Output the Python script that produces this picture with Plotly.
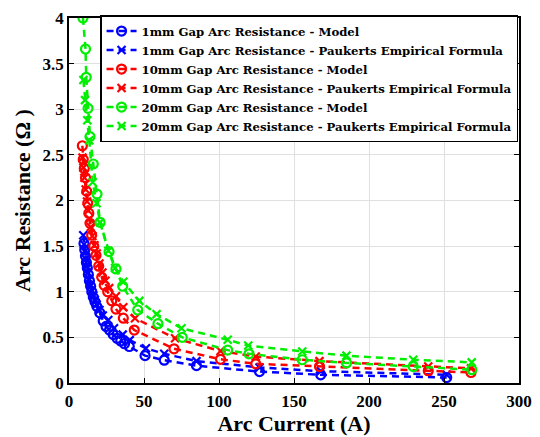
import plotly.graph_objects as go

# ---- data ----
g_model_I = [9.3, 11.0, 11.5, 12.7, 14.0, 16.2, 18.7, 20.7, 26.7, 31.3, 35.8, 45.8, 59.3, 75.5, 105.8, 120.0, 155.5, 185.0, 229.5, 268.5]
g_model_R = [4.00, 3.66, 3.35, 3.01, 2.70, 2.40, 2.07, 1.76, 1.44, 1.25, 1.06, 0.80, 0.65, 0.50, 0.36, 0.32, 0.255, 0.22, 0.18, 0.146]

g_pauk_I = [9.6, 10.7, 12.2, 13.5, 15.8, 18.4, 20.7, 26.2, 30.7, 36.2, 46.9, 58.4, 75.0, 105.8, 119.5, 155.5, 185.0, 229.5, 268.5]
g_pauk_R = [3.32, 3.10, 2.88, 2.66, 2.20, 1.97, 1.76, 1.45, 1.26, 1.11, 0.90, 0.755, 0.60, 0.474, 0.41, 0.346, 0.30, 0.255, 0.226]

r_model_I = [8.9, 9.5, 10.2, 11.0, 11.8, 12.5, 13.2, 14.0, 15.1, 16.5, 18.0, 19.8, 21.8, 23.5, 25.8, 28.5, 31.3, 36.2, 43.5, 70.0, 101.0, 124.5, 167.0, 239.5, 268.0]
r_model_R = [2.60, 2.45, 2.35, 2.25, 2.10, 1.97, 1.86, 1.75, 1.62, 1.50, 1.40, 1.28, 1.16, 1.07, 1.00, 0.90, 0.81, 0.71, 0.58, 0.375, 0.26, 0.21, 0.18, 0.135, 0.115]

r_pauk_I = [9.0, 9.6, 10.3, 11.1, 12.0, 12.8, 13.6, 14.5, 15.6, 17.0, 18.5, 20.3, 22.3, 24.3, 26.8, 31.3, 36.2, 44.0, 70.7, 101.0, 124.5, 167.0, 239.5, 268.0]
r_pauk_R = [2.47, 2.36, 2.25, 2.12, 1.99, 1.89, 1.80, 1.71, 1.61, 1.51, 1.42, 1.31, 1.21, 1.12, 1.04, 0.95, 0.83, 0.71, 0.49, 0.35, 0.29, 0.24, 0.18, 0.16]

b_model_I = [10.0, 10.5, 11.0, 11.6, 12.2, 12.9, 13.6, 14.4, 15.2, 16.2, 17.3, 18.5, 20.5, 22.8, 24.7, 27.0, 29.5, 32.0, 34.5, 37.0, 40.2, 50.7, 63.5, 85.0, 127.0, 167.8, 251.8]
b_model_R = [1.53, 1.46, 1.39, 1.32, 1.26, 1.19, 1.12, 1.06, 1.00, 0.94, 0.89, 0.84, 0.77, 0.68, 0.62, 0.58, 0.53, 0.49, 0.46, 0.43, 0.40, 0.30, 0.25, 0.19, 0.125, 0.09, 0.06]

b_pauk_I = [9.5, 10.0, 10.6, 11.2, 11.9, 12.6, 13.4, 14.2, 15.1, 16.1, 17.2, 18.4, 20.3, 22.5, 26.2, 30.0, 35.8, 40.5, 51.3, 63.5, 85.0, 127.0, 167.8, 251.8]
b_pauk_R = [1.62, 1.52, 1.44, 1.36, 1.28, 1.21, 1.14, 1.08, 1.02, 0.96, 0.91, 0.86, 0.80, 0.74, 0.69, 0.60, 0.53, 0.47, 0.38, 0.32, 0.24, 0.17, 0.13, 0.09]

series_names = [
    "1mm Gap Arc Resistance - Model",
    "1mm Gap Arc Resistance - Paukerts Empirical Formula",
    "10mm Gap Arc Resistance - Model",
    "10mm Gap Arc Resistance - Paukerts Empirical Formula",
    "20mm Gap Arc Resistance - Model",
    "20mm Gap Arc Resistance - Paukerts Empirical Formula",
]

x_ticks = [0, 50, 100, 150, 200, 250, 300]
y_ticks = [0, 0.5, 1, 1.5, 2, 2.5, 3, 3.5, 4]
y_tick_text = ["0", "0.5", "1", "1.5", "2", "2.5", "3", "3.5", "4"]

BLUE = "#0000FF"
RED = "#FF0000"
GREEN = "#00EE00"
FONT = "Liberation Serif"

series = [
    (b_model_I, b_model_R, BLUE, "circle-open"),
    (b_pauk_I, b_pauk_R, BLUE, "x-thin-open"),
    (r_model_I, r_model_R, RED, "circle-open"),
    (r_pauk_I, r_pauk_R, RED, "x-thin-open"),
    (g_model_I, g_model_R, GREEN, "circle-open"),
    (g_pauk_I, g_pauk_R, GREEN, "x-thin-open"),
]

fig = go.Figure()
for (xs, ys, col, sym), name in zip(series, series_names):
    fig.add_trace(go.Scatter(
        x=xs, y=ys, name=name, mode="lines+markers",
        line=dict(color=col, width=2.5, dash="7px,5px"),
        marker=dict(symbol=sym, size=9 if sym == "circle-open" else 8,
                    color=col, line=dict(color=col, width=2.2)),
    ))

fig.update_layout(
    width=540, height=437,
    margin=dict(l=69, r=21, t=18, b=54),
    paper_bgcolor="white", plot_bgcolor="white",
    font=dict(family=FONT, color="black"),
    showlegend=True,
    legend=dict(
        x=0.069, y=1.008, xanchor="left", yanchor="top",
        bgcolor="white", bordercolor="black", borderwidth=1.5,
        font=dict(family="DejaVu Serif", size=11.7, color="black", weight="bold"),
        tracegroupgap=0, itemwidth=30,
    ),
)
fig.update_xaxes(
    range=[0, 300], tickvals=x_ticks, automargin=False,
    showgrid=True, gridcolor="#E0E0E0", gridwidth=1,
    showline=True, linecolor="black", linewidth=1.5, mirror="ticks",
    ticks="inside", ticklen=5, tickcolor="black", tickwidth=1,
    tickfont=dict(family=FONT, size=17, weight="bold"),
    ticklabelstandoff=2,
    zeroline=False,
    title=dict(text="Arc Current (A)", font=dict(family=FONT, size=22, weight="bold"), standoff=0),
)
fig.update_yaxes(
    range=[0, 4], tickvals=y_ticks, ticktext=y_tick_text, automargin=False,
    showgrid=True, gridcolor="#E0E0E0", gridwidth=1,
    showline=True, linecolor="black", linewidth=1.5, mirror="ticks",
    ticks="inside", ticklen=5, tickcolor="black", tickwidth=1,
    tickfont=dict(family=FONT, size=17, weight="bold"),
    zeroline=False,
    title=dict(text="Arc Resistance (Ω )", font=dict(family=FONT, size=22, weight="bold"), standoff=6),
)

fig.write_html("out.html")
